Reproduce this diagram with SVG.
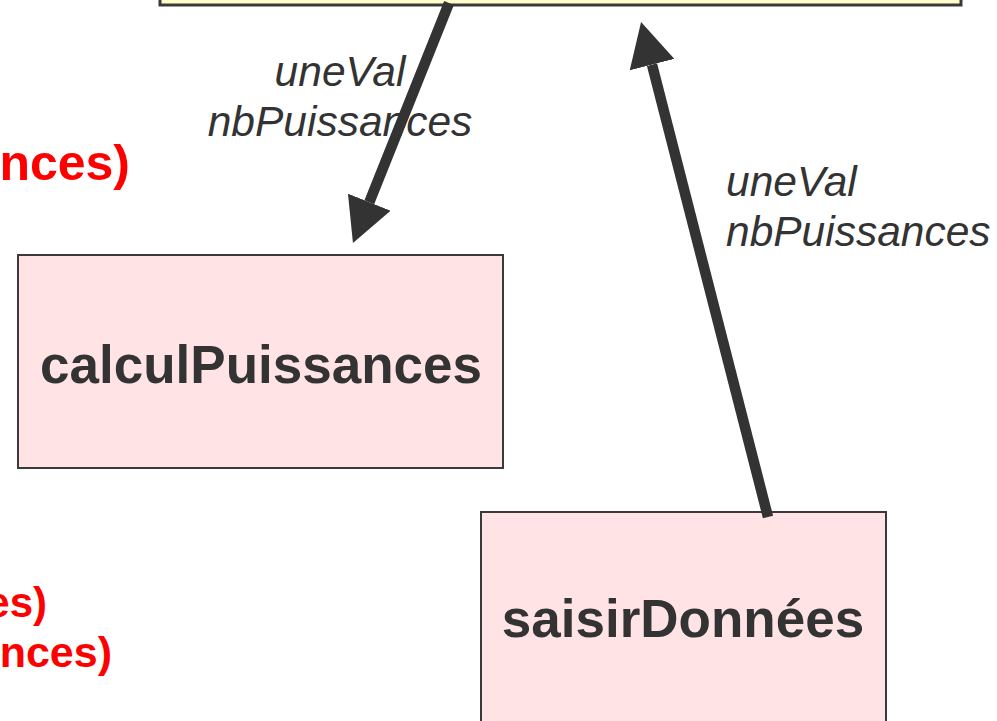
<svg xmlns="http://www.w3.org/2000/svg" width="997" height="721" viewBox="0 0 997 721">
  <style>
    .proc { fill: #FFE3E5; stroke: #3a3a3a; stroke-width: 2; }
    .main { fill: #FFFDC9; stroke: #3a3a3a; stroke-width: 3; }
    .name { font-family: "Liberation Sans", Arial, sans-serif; font-weight: bold; font-size: 53px; fill: #333333; text-anchor: middle; }
    .param { font-family: "Liberation Sans", Arial, sans-serif; font-style: italic; font-size: 42.5px; fill: #333333; }
    .call { font-family: "Liberation Sans", Arial, sans-serif; font-weight: bold; fill: #FF0000; text-anchor: end; }
    .flow { stroke: #333333; stroke-width: 10.5; fill: none; marker-end: url(#head); }
  </style>
  <defs>
    <marker id="head" markerUnits="userSpaceOnUse" viewBox="0 0 44 46" refX="0" refY="23" markerWidth="44" markerHeight="46" orient="auto">
      <path d="M0,0 L44,23 L0,46 Z" fill="#333333"/>
    </marker>
  </defs>

  <rect width="997" height="721" fill="#FFFFFF"/>

  <!-- main program box, cut by the top edge -->
  <g id="programme">
    <rect class="main" x="160" y="-20" width="801" height="25"/>
  </g>

  <!-- red call lines on the left edge -->
  <g id="appels">
    <text class="call" x="130" y="180" font-size="50">nces)</text>
    <text class="call" x="47" y="617" font-size="42">es)</text>
    <text class="call" x="112" y="667" font-size="43">nces)</text>
  </g>

  <g id="calculPuissances">
    <rect class="proc" x="18" y="255" width="485" height="213"/>
    <text class="name" x="261" y="383">calculPuissances</text>
  </g>

  <g id="saisirDonnees">
    <rect class="proc" x="481" y="512" width="405" height="220"/>
    <text class="name" x="683" y="637">saisirDonnées</text>
  </g>

  <!-- data flows -->
  <g id="connecteurs">
    <line class="flow" x1="449" y1="3" x2="369.3" y2="202.2"/>
    <line class="flow" x1="768" y1="517" x2="652" y2="64.6"/>
  </g>

  <g id="labels">
    <text class="param" x="340" y="86" text-anchor="middle">uneVal</text>
    <text class="param" x="340" y="136" text-anchor="middle">nbPuissances</text>
    <text class="param" x="726" y="196">uneVal</text>
    <text class="param" x="726" y="246">nbPuissances</text>
  </g>
</svg>
